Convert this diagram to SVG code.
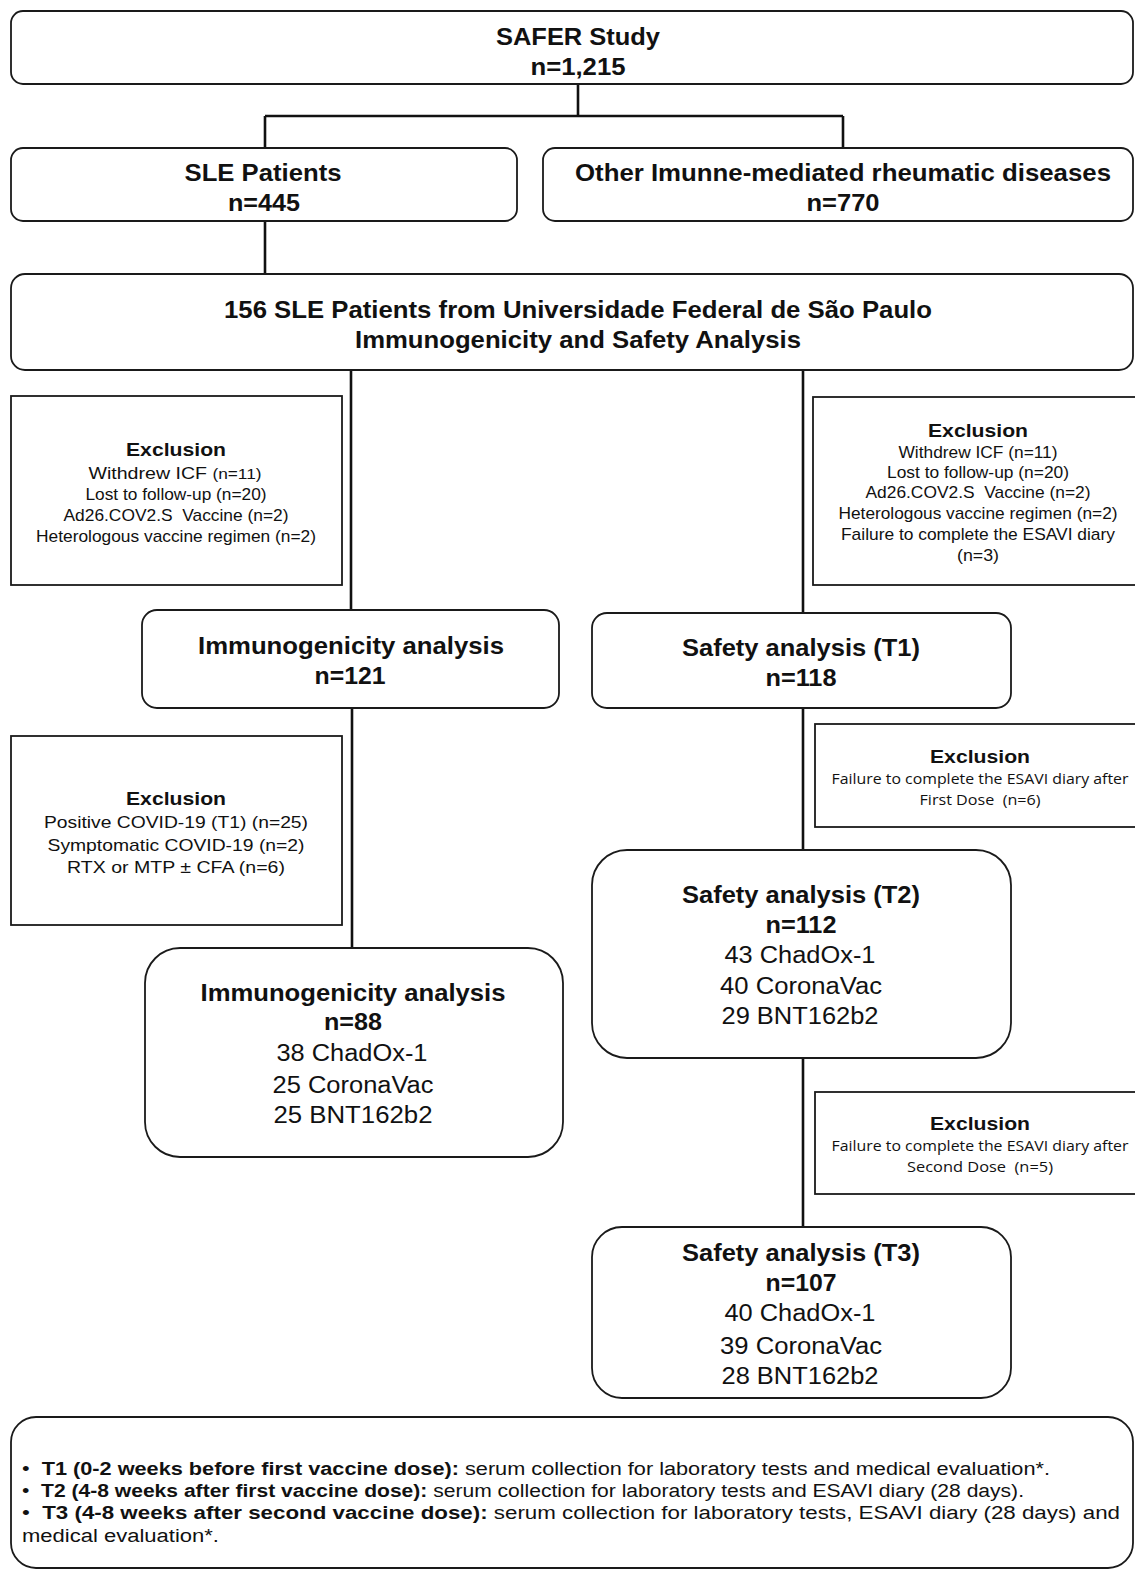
<svg xmlns="http://www.w3.org/2000/svg" width="1135" height="1570" viewBox="0 0 1135 1570">
<style>
.box{fill:#fff;stroke:#1a1a1a;stroke-width:1.8}
.conn{stroke:#111;stroke-width:2.6;fill:none}
.t{font-family:"Liberation Sans",Arial,sans-serif;fill:#111;text-anchor:middle}
.b{font-weight:bold}
.h1{font-size:24.5px;font-weight:bold}
.v{font-size:23.5px}
.eh{font-size:19px;font-weight:bold}
.el{font-size:17px}
.ap{font-family:"Open Sans","Noto Sans",sans-serif;font-size:15px}
.bt{font-family:"Liberation Sans",Arial,sans-serif;font-size:18px;fill:#111}
</style>
<rect width="1135" height="1570" fill="#fff"/>
<g id="connectors">
<path class="conn" d="M578 84V116"/>
<path class="conn" d="M265 116H843" stroke-width="3.2"/>
<path class="conn" d="M265 116V148M843 116V148"/>
<path class="conn" d="M265 222V275"/>
<path class="conn" d="M351 370V610M352 708V948"/>
<path class="conn" d="M803 370V613M803 708V850M803 1058V1227"/>
</g>
<g id="safer">
<rect class="box" x="11" y="11" width="1122" height="73" rx="12"/>
<text class="t h1" x="578" y="45" textLength="164" lengthAdjust="spacingAndGlyphs">SAFER Study</text>
<text class="t h1" x="578" y="75" textLength="95" lengthAdjust="spacingAndGlyphs">n=1,215</text>
</g>
<g id="sle">
<rect class="box" x="11" y="148" width="506" height="73" rx="12"/>
<text class="t h1" x="263" y="181" textLength="157" lengthAdjust="spacingAndGlyphs">SLE Patients</text>
<text class="t h1" x="264" y="211" textLength="72" lengthAdjust="spacingAndGlyphs">n=445</text>
</g>
<g id="other">
<rect class="box" x="543" y="148" width="590" height="73" rx="12"/>
<text class="t h1" x="843" y="181" textLength="536" lengthAdjust="spacingAndGlyphs">Other Imunne-mediated rheumatic diseases</text>
<text class="t h1" x="843" y="211" textLength="73" lengthAdjust="spacingAndGlyphs">n=770</text>
</g>
<g id="unifesp">
<rect class="box" x="11" y="274" width="1122" height="96" rx="14"/>
<text class="t h1" x="578" y="318" textLength="708" lengthAdjust="spacingAndGlyphs">156 SLE Patients from Universidade Federal de São Paulo</text>
<text class="t h1" x="578" y="348" textLength="446" lengthAdjust="spacingAndGlyphs">Immunogenicity and Safety Analysis</text>
</g>
<g id="excl-left-1">
<rect class="box" x="11" y="396" width="331" height="189"/>
<text class="t eh" x="176" y="456" textLength="100" lengthAdjust="spacingAndGlyphs">Exclusion</text>
<text class="t el" x="175" y="479" textLength="173" lengthAdjust="spacingAndGlyphs">Withdrew ICF <tspan font-size="15">(n=11)</tspan></text>
<text class="t el" x="176" y="500" textLength="181" lengthAdjust="spacingAndGlyphs">Lost to follow-up (n=20)</text>
<text class="t el" x="176" y="521" textLength="225" lengthAdjust="spacingAndGlyphs">Ad26.COV2.S&#160; Vaccine (n=2)</text>
<text class="t el" x="176" y="542" textLength="280" lengthAdjust="spacingAndGlyphs">Heterologous vaccine regimen (n=2)</text>
</g>
<g id="excl-right-1">
<rect class="box" x="813" y="397" width="330" height="188"/>
<text class="t eh" x="978" y="437" textLength="100" lengthAdjust="spacingAndGlyphs">Exclusion</text>
<text class="t el" x="978" y="458" textLength="159" lengthAdjust="spacingAndGlyphs">Withdrew ICF (n=11)</text>
<text class="t el" x="978" y="478" textLength="182" lengthAdjust="spacingAndGlyphs">Lost to follow-up (n=20)</text>
<text class="t el" x="978" y="498" textLength="225" lengthAdjust="spacingAndGlyphs">Ad26.COV2.S&#160; Vaccine (n=2)</text>
<text class="t el" x="978" y="519" textLength="279" lengthAdjust="spacingAndGlyphs">Heterologous vaccine regimen (n=2)</text>
<text class="t el" x="978" y="540" textLength="274" lengthAdjust="spacingAndGlyphs">Failure to complete the ESAVI diary</text>
<text class="t el" x="978" y="561" textLength="42" lengthAdjust="spacingAndGlyphs">(n=3)</text>
</g>
<g id="immuno-121">
<rect class="box" x="142" y="610" width="417" height="98" rx="15"/>
<text class="t h1" x="351" y="654" textLength="306" lengthAdjust="spacingAndGlyphs">Immunogenicity analysis</text>
<text class="t h1" x="350" y="684" textLength="71" lengthAdjust="spacingAndGlyphs">n=121</text>
</g>
<g id="safety-t1">
<rect class="box" x="592" y="613" width="419" height="95" rx="15"/>
<text class="t h1" x="801" y="656" textLength="238" lengthAdjust="spacingAndGlyphs">Safety analysis (T1)</text>
<text class="t h1" x="801" y="686" textLength="71" lengthAdjust="spacingAndGlyphs">n=118</text>
</g>
<g id="excl-left-2">
<rect class="box" x="11" y="736" width="331" height="189"/>
<text class="t eh" x="176" y="805" textLength="100" lengthAdjust="spacingAndGlyphs">Exclusion</text>
<text class="t el" x="176" y="828" textLength="264" lengthAdjust="spacingAndGlyphs">Positive COVID-19 (T1) (n=25)</text>
<text class="t el" x="176" y="851" textLength="257" lengthAdjust="spacingAndGlyphs">Symptomatic COVID-19 (n=2)</text>
<text class="t el" x="176" y="873" textLength="218" lengthAdjust="spacingAndGlyphs">RTX or MTP ± CFA (n=6)</text>
</g>
<g id="excl-right-2">
<rect class="box" x="815" y="724" width="325" height="103"/>
<text class="t eh" x="980" y="763" textLength="100" lengthAdjust="spacingAndGlyphs">Exclusion</text>
<text class="t ap" x="980" y="784" textLength="297" lengthAdjust="spacingAndGlyphs">Failure to complete the ESAVI diary after</text>
<text class="t ap" x="980" y="805" textLength="121" lengthAdjust="spacingAndGlyphs">First Dose&#160; (n=6)</text>
</g>
<g id="immuno-88">
<rect class="box" x="145" y="948" width="418" height="209" rx="35"/>
<text class="t h1" x="353" y="1001" textLength="305" lengthAdjust="spacingAndGlyphs">Immunogenicity analysis</text>
<text class="t h1" x="353" y="1030" textLength="58" lengthAdjust="spacingAndGlyphs">n=88</text>
<text class="t v" x="352" y="1061" textLength="151" lengthAdjust="spacingAndGlyphs">38 ChadOx-1</text>
<text class="t v" x="353" y="1093" textLength="161" lengthAdjust="spacingAndGlyphs">25 CoronaVac</text>
<text class="t v" x="353" y="1123" textLength="159" lengthAdjust="spacingAndGlyphs">25 BNT162b2</text>
</g>
<g id="safety-t2">
<rect class="box" x="592" y="850" width="419" height="208" rx="35"/>
<text class="t h1" x="801" y="903" textLength="238" lengthAdjust="spacingAndGlyphs">Safety analysis (T2)</text>
<text class="t h1" x="801" y="933" textLength="71" lengthAdjust="spacingAndGlyphs">n=112</text>
<text class="t v" x="800" y="963" textLength="151" lengthAdjust="spacingAndGlyphs">43 ChadOx-1</text>
<text class="t v" x="801" y="994" textLength="162" lengthAdjust="spacingAndGlyphs">40 CoronaVac</text>
<text class="t v" x="800" y="1024" textLength="157" lengthAdjust="spacingAndGlyphs">29 BNT162b2</text>
</g>
<g id="excl-right-3">
<rect class="box" x="815" y="1092" width="325" height="102"/>
<text class="t eh" x="980" y="1130" textLength="100" lengthAdjust="spacingAndGlyphs">Exclusion</text>
<text class="t ap" x="980" y="1151" textLength="297" lengthAdjust="spacingAndGlyphs">Failure to complete the ESAVI diary after</text>
<text class="t ap" x="980" y="1172" textLength="146" lengthAdjust="spacingAndGlyphs">Second Dose&#160; (n=5)</text>
</g>
<g id="safety-t3">
<rect class="box" x="592" y="1227" width="419" height="171" rx="30"/>
<text class="t h1" x="801" y="1261" textLength="238" lengthAdjust="spacingAndGlyphs">Safety analysis (T3)</text>
<text class="t h1" x="801" y="1291" textLength="71" lengthAdjust="spacingAndGlyphs">n=107</text>
<text class="t v" x="800" y="1321" textLength="151" lengthAdjust="spacingAndGlyphs">40 ChadOx-1</text>
<text class="t v" x="801" y="1354" textLength="162" lengthAdjust="spacingAndGlyphs">39 CoronaVac</text>
<text class="t v" x="800" y="1384" textLength="157" lengthAdjust="spacingAndGlyphs">28 BNT162b2</text>
</g>
<g id="legend">
<rect class="box" x="11" y="1417" width="1122" height="151" rx="25"/>
<text class="bt" x="22" y="1475" textLength="1028" lengthAdjust="spacingAndGlyphs">•&#160; <tspan class="b">T1 (0-2 weeks before first vaccine dose):</tspan> serum collection for laboratory tests and medical evaluation*.</text>
<text class="bt" x="22" y="1497" textLength="1002" lengthAdjust="spacingAndGlyphs">•&#160; <tspan class="b">T2 (4-8 weeks after first vaccine dose):</tspan> serum collection for laboratory tests and ESAVI diary (28 days).</text>
<text class="bt" x="22" y="1519" textLength="1098" lengthAdjust="spacingAndGlyphs">•&#160; <tspan class="b">T3 (4-8 weeks after second vaccine dose):</tspan> serum collection for laboratory tests, ESAVI diary (28 days) and</text>
<text class="bt" x="22" y="1542" textLength="197" lengthAdjust="spacingAndGlyphs">medical evaluation*.</text>
</g>
</svg>
